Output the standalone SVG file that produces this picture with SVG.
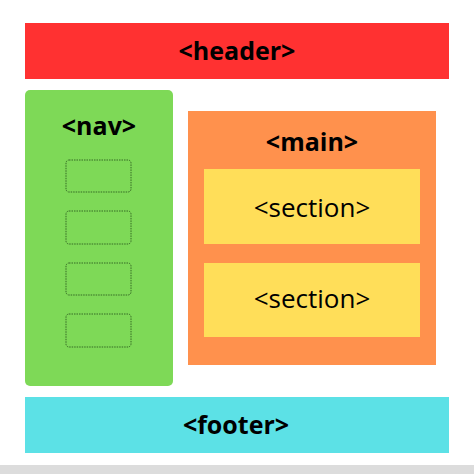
<svg xmlns="http://www.w3.org/2000/svg" width="474" height="474" viewBox="0 0 474 474">
<style>
.t{font-family:"Open Sans","Liberation Sans",sans-serif;fill:#000;text-anchor:middle}
.b{font-weight:700;font-size:25px}
.r{font-weight:400;font-size:26px}
.nb{fill:none;stroke:#2e5e1f;stroke-width:0.9;stroke-dasharray:1.5 1}
</style>
<rect x="0" y="0" width="474" height="474" fill="#fff"/>
<rect x="0" y="465" width="474" height="9" fill="#dcdcdc"/>
<g id="header">
<rect x="25" y="23" width="424" height="56" fill="#ff3131"/>
<text class="t b" x="237" y="60">&lt;header&gt;</text>
</g>
<g id="nav">
<rect x="25" y="90" width="148" height="296" rx="5" fill="#7ed957"/>
<text class="t b" x="99" y="135">&lt;nav&gt;</text>
<rect class="nb" x="66" y="160" width="65" height="32" rx="3"/>
<rect class="nb" x="66" y="211" width="65" height="33" rx="3"/>
<rect class="nb" x="66" y="263" width="65" height="32" rx="3"/>
<rect class="nb" x="66" y="314" width="65" height="33" rx="3"/>
</g>
<g id="main">
<rect x="188" y="111" width="248" height="254" fill="#ff914d"/>
<text class="t b" x="312" y="151">&lt;main&gt;</text>
</g>
<g id="section1">
<rect x="204" y="169" width="216" height="75" fill="#ffde59"/>
<text class="t r" x="312" y="217">&lt;section&gt;</text>
</g>
<g id="section2">
<rect x="204" y="263" width="216" height="74" fill="#ffde59"/>
<text class="t r" x="312" y="308">&lt;section&gt;</text>
</g>
<g id="footer">
<rect x="25" y="397" width="424" height="56" fill="#5ce1e6"/>
<text class="t b" x="236" y="434">&lt;footer&gt;</text>
</g>
<g id="connectors"></g>
</svg>
